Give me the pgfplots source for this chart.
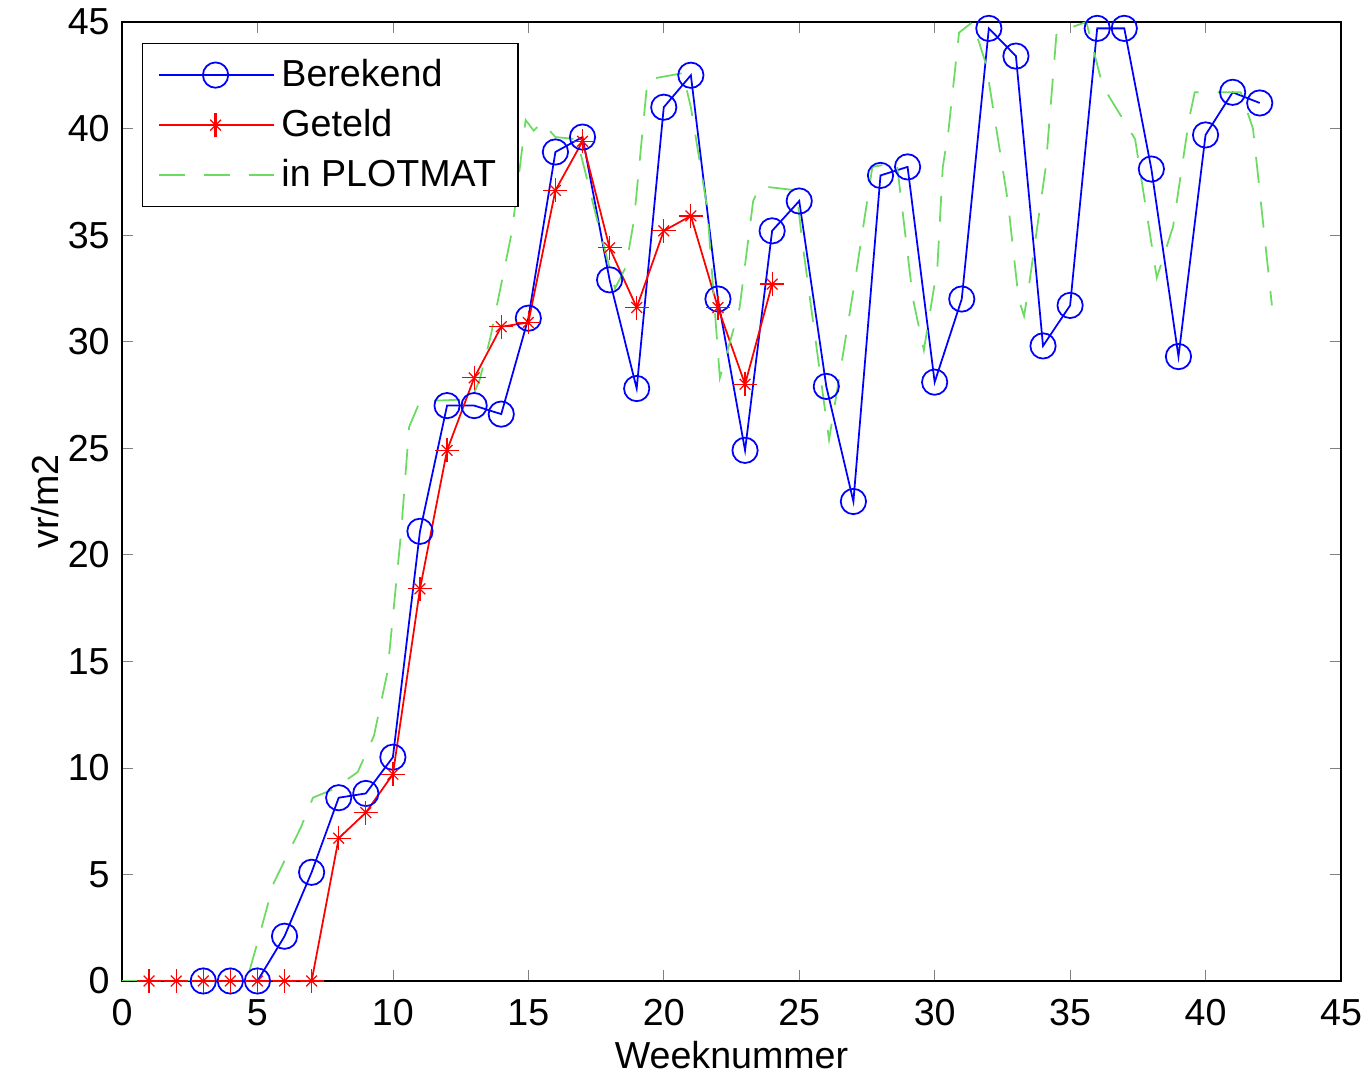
\documentclass[border=0pt]{standalone}
\usepackage{fontspec}
\setmainfont{Liberation Sans}
\usepackage{pgfplots}
\pgfplotsset{compat=1.18}

% MATLAB-style '*' marker: a plus with short diagonals
\pgfdeclareplotmark{mstar}{%
  \pgfpathmoveto{\pgfqpoint{-\pgfplotmarksize}{0pt}}%
  \pgfpathlineto{\pgfqpoint{\pgfplotmarksize}{0pt}}%
  \pgfpathmoveto{\pgfqpoint{0pt}{-\pgfplotmarksize}}%
  \pgfpathlineto{\pgfqpoint{0pt}{\pgfplotmarksize}}%
  \pgfusepathqstroke
  \pgfsetlinewidth{0.35pt}%
  \pgfpathmoveto{\pgfqpoint{-0.45\pgfplotmarksize}{-0.45\pgfplotmarksize}}%
  \pgfpathlineto{\pgfqpoint{0.45\pgfplotmarksize}{0.45\pgfplotmarksize}}%
  \pgfpathmoveto{\pgfqpoint{-0.45\pgfplotmarksize}{0.45\pgfplotmarksize}}%
  \pgfpathlineto{\pgfqpoint{0.45\pgfplotmarksize}{-0.45\pgfplotmarksize}}%
  \pgfusepathqstroke}

\definecolor{mblue}{rgb}{0,0,1}
\definecolor{mred}{rgb}{1,0,0}
\definecolor{mgreen}{rgb}{0.42,0.86,0.38}

\begin{document}
\begin{tikzpicture}[font=\fontsize{10.7pt}{12.8pt}\selectfont]
\begin{axis}[
  scale only axis,
  width=121.9mm, height=95.9mm,
  xmin=0, xmax=45, ymin=0, ymax=45,
  xtick={0,5,...,45}, ytick={0,5,...,45},
  tick align=inside, major tick length=1.1mm,
  xtick pos=both, ytick pos=both,
  axis line style={line width=0.6pt},
  /pgf/number format/assume math mode=true,
  xticklabel style={yshift=-0.6mm},
  xlabel={Weeknummer}, ylabel={vr/m2},
  xlabel style={at={(axis description cs:0.5,-0.077)}, anchor=center},
  ylabel style={at={(axis description cs:-0.063,0.5)}, anchor=center},
  legend cell align=left,
  legend style={at={(axis description cs:0.0164,0.978)}, anchor=north west,
    inner xsep=1.5mm, inner ysep=0.8mm,
    row sep=0.35mm, font=\fontsize{10.7pt}{12.8pt}\selectfont},
  legend image code/.code={\draw[mark repeat=2,mark phase=2]
    plot coordinates {(0mm,0mm) (5.7mm,0mm) (11.5mm,0mm)};},
]
% Berekend
\addplot[mblue, line width=0.5pt, mark=o, mark size=3.6pt,
  mark options={line width=0.5pt}] coordinates {
  (3,0) (4,0) (5,0) (6,2.1) (7,5.1) (8,8.6) (9,8.8) (10,10.5)
  (11,21.1) (12,27.0) (13,27.0) (14,26.6) (15,31.1) (16,38.9) (17,39.6)
  (18,32.9) (19,27.8) (20,41.0) (21,42.5) (22,32.0) (23,24.9) (24,35.2)
  (25,36.6) (26,27.9) (27,22.5) (28,37.8) (29,38.2) (30,28.1) (31,32.0)
  (32,44.7) (33,43.4) (34,29.8) (35,31.7) (36,44.7) (37,44.7) (38,38.1)
  (39,29.3) (40,39.7) (41,41.7) (42,41.2)};
\addlegendentry{Berekend}
% Geteld
\addplot[mred, line width=0.5pt, mark=mstar, mark size=3.4pt,
  mark options={line width=0.75pt}] coordinates {
  (1,0) (2,0) (3,0) (4,0) (5,0) (6,0) (7,0) (8,6.7) (9,7.9) (10,9.7)
  (11,18.4) (12,24.9) (13,28.3) (14,30.7) (15,30.9) (16,37.1) (17,39.4)
  (18,34.4) (19,31.6) (20,35.2) (21,35.9) (22,31.6) (23,28.0) (24,32.7)};
\addlegendentry{Geteld}
% in PLOTMAT
\addplot[mgreen, line width=0.5pt, dash pattern=on 2.6mm off 1.9mm] coordinates {
  (0,0) (4.6,0) (5.0,1.8) (5.6,4.6) (6.6,7.2) (7.05,8.6) (7.8,9.0)
  (8.7,9.8) (9.3,11.5) (9.8,14.5) (10.3,21) (10.6,26) (11.0,27.2)
  (12.9,27.3) (13.2,28.2) (13.6,30.2) (14.0,32.7) (14.4,35.2) (14.9,40.4)
  (15.2,39.9) (15.5,40.3) (16.0,39.6) (16.8,39.5) (17.6,35.4) (18.2,32.5)
  (18.6,33.5) (18.9,35.7) (19.4,42.3) (20.7,42.6) (21.0,41.0) (21.6,36.3)
  (22.07,28.3) (22.8,31.6) (23.3,36.6) (23.55,37.3) (24.9,37.1) (25.1,34.8)
  (25.6,30.1) (26.1,25.4) (26.5,28.5) (27.1,33.2) (27.7,38.2) (28.6,38.4)
  (29.2,32.0) (29.6,29.6) (30.1,33.5) (30.3,38.2) (30.5,39.8) (30.9,44.5)
  (31.4,45) (31.9,43.0) (32.7,36.6) (33.1,32.0) (33.3,31.2) (33.5,32.8)
  (34.1,38.2) (34.5,44.5) (35.6,45) (36.2,42.0) (37.4,39.5) (38.2,33.0)
  (38.8,35.4) (39.4,40.5) (39.6,41.7) (41.3,41.7) (41.75,40.0) (42.45,31.7)};
\addlegendentry{in PLOTMAT}
\coordinate (sw) at (rel axis cs:0,0);
\coordinate (ne) at (rel axis cs:1,1);
\end{axis}
\pgfresetboundingbox
\path ([shift={(-12.2mm,-9.4mm)}]sw) rectangle ([shift={(2.7mm,2.2mm)}]ne);
\end{tikzpicture}
\end{document}
